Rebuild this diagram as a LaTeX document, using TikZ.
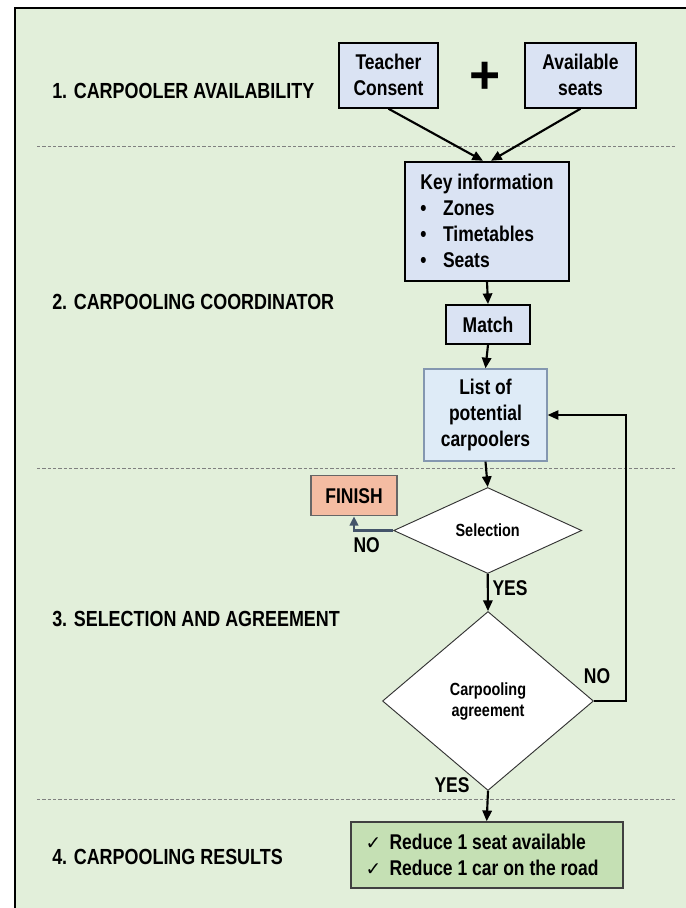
\documentclass[tikz,border=0pt]{standalone}
\usepackage{fontspec}
\setmainfont{Liberation Sans}[FakeStretch=0.82]
\newfontfamily\plusfont{Liberation Sans}
\newfontfamily\symfont{DejaVu Sans}
\usetikzlibrary{arrows.meta,shapes.geometric}
\definecolor{bggreen}{HTML}{E2EFDA}
\definecolor{boxblue}{HTML}{DAE3F3}
\definecolor{listblue}{HTML}{DEEBF7}
\definecolor{listborder}{HTML}{8497B0}
\definecolor{finishfill}{HTML}{F4BCA2}
\definecolor{resultfill}{HTML}{C5E0B4}
\definecolor{slate}{HTML}{44546A}
\definecolor{dashgray}{HTML}{808080}
\newcommand\bigtxt{\fontsize{16pt}{19.5pt}\selectfont\bfseries}
\newcommand\headtxt{\fontsize{16.4pt}{19.5pt}\selectfont\bfseries}
\newcommand\smalltxt{\fontsize{13.2pt}{15.75pt}\selectfont\bfseries}
\newcommand\chk{\makebox[18pt][l]{\symfont\fontsize{14pt}{14pt}\selectfont ✓}}
\tikzset{
  box/.style={draw=black, line width=1.4pt, fill=boxblue, font=\bigtxt, align=center, inner sep=0pt},
  decision/.style={shape=diamond, draw=black!80, line width=0.7pt, fill=white, font=\smalltxt, align=center, inner sep=0pt},
  flow/.style={-{Triangle[length=8pt,width=7pt]}, line width=1.6pt, black},
  heading/.style={anchor=west, font=\headtxt, inner sep=0pt},
  lbl/.style={font=\bigtxt, inner sep=0pt},
  sep/.style={dashgray, line width=0.7pt, dash pattern=on 2.5pt off 1.5pt}
}
\begin{document}
\begin{tikzpicture}[x=0.75pt,y=-0.75pt]
\useasboundingbox (0,0) rectangle (686,908);
\fill[white] (0,0) rectangle (686,908);
\fill[bggreen] (15,8) rectangle (686,908);
\draw[black, line width=1.5pt] (15,908) -- (15,8) -- (686,8);

% separators
\draw[sep] (37,146.7) -- (677,146.7);
\draw[sep] (37,468.5) -- (677,468.5);
\draw[sep] (37,799) -- (677,799);

% headings
\node[heading] (h1) at (52,91) {1. CARPOOLER AVAILABILITY};
\node[heading] (h2) at (52,302) {2. CARPOOLING COORDINATOR};
\node[heading] (h3) at (52,619) {3. SELECTION AND AGREEMENT};
\node[heading] (h4) at (52,857) {4. CARPOOLING RESULTS};

% nodes
\node[box, minimum width=74.25pt, minimum height=48.75pt] (teacher) at (388.5,75.3) {Teacher\\Consent};
\node[box, minimum width=83.25pt, minimum height=48.75pt] (avail) at (580.5,75.3) {Available\\seats};
\node[inner sep=0pt, font=\plusfont\fontsize{40pt}{40pt}\selectfont\bfseries] (plus) at (485,78) {+};
\node[box, minimum width=123pt, minimum height=89.25pt, align=left] (key) at (487,221.2)
  {Key information\\
   \makebox[17pt][l]{\textbullet}Zones\\
   \makebox[17pt][l]{\textbullet}Timetables\\
   \makebox[17pt][l]{\textbullet}Seats};
\node[box, minimum width=63pt, minimum height=29.25pt] (match) at (488,324.5) {Match};
\node[box, draw=listborder, line width=1pt, fill=listblue, minimum width=92.25pt, minimum height=69pt] (list) at (485.5,415) {List of\\potential\\carpoolers};
\node[decision, minimum width=141pt, minimum height=64.5pt] (sel) at (487.7,530.5) {Selection};
\node[box, draw=black!60, line width=1pt, fill=finishfill, minimum width=64.5pt, minimum height=30pt] (finish) at (354,495.7) {FINISH};
\node[decision, minimum width=158.25pt, minimum height=134.25pt] (carp) at (488,701) {Carpooling\\agreement};
\node[box, draw=black!75, line width=1.2pt, fill=resultfill, minimum width=204pt, minimum height=49.5pt, align=left] (result) at (486.7,855)
  {\chk Reduce 1 seat available\\
   \chk Reduce 1 car on the road\hspace*{7pt}};

% connectors
\draw[flow] (teacher.south) -- ([xshift=-3pt]key.north);
\draw[flow] (avail.south) -- ([xshift=3pt]key.north);
\draw[flow] (key.south) -- (match.north);
\draw[flow] (match.south) -- (list.north);
\draw[flow] (list.south) -- (sel.north);
\draw[flow] (sel.south) -- (carp.north);
\draw[flow] (carp.south) -- (result.north);
\coordinate (loopa) at (626,701);
\coordinate (loopb) at (626,415);
\draw[-{Triangle[length=8pt,width=7pt]}, line width=1.1pt, black] (carp.east) -- (loopa) -- (loopb) -- (list.east);
\coordinate (finc) at (354,530.5);
\draw[-{Triangle[length=7pt,width=6.5pt]}, line width=2pt, slate] (sel.west) -- (finc) -- (finish.south);

% labels
\node[lbl] (no1) at (366.7,545) {NO};
\node[lbl] (yes1) at (510,588) {YES};
\node[lbl] (no2) at (597,676) {NO};
\node[lbl] (yes2) at (452,785) {YES};
\end{tikzpicture}
\end{document}
